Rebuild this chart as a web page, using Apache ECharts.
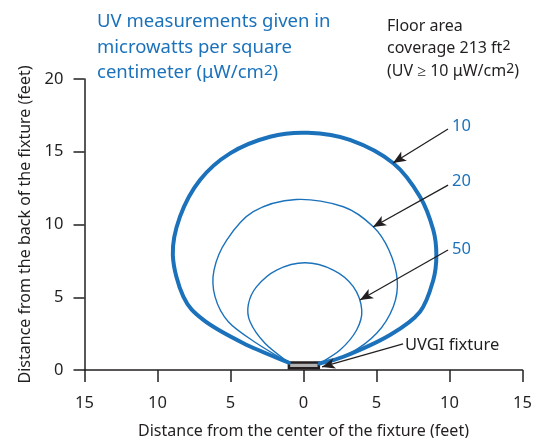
<!DOCTYPE html>
<html>
<head>
<meta charset="utf-8">
<script src="https://cdn.jsdelivr.net/npm/echarts@6/dist/echarts.min.js"></script>
<style>html,body{margin:0;padding:0;background:#fff}#c{width:539px;height:438px}</style>
</head>
<body>
<div id="c"></div>
<script>
// ---- data ----
var xTicks = [-15, -10, -5, 0, 5, 10, 15];
var xTickLabels = ['15', '10', '5', '0', '5', '10', '15'];
var yTicks = [0, 5, 10, 15, 20];
var contourLevels = ['10', '20', '50'];
var contour10 = [[-1.0,0.5],[-4.12,1.84],[-6.86,3.44],[-8.23,5.04],[-8.95,7.9],[-8.46,10.54],[-7.09,13.06],[-5.03,14.89],[-2.29,16.03],[0.3,16.3],[3.18,15.81],[6.15,14.21],[7.98,11.91],[8.89,9.62],[9.1,7.9],[8.89,6.19],[7.98,4.01],[5.92,2.41],[2.73,0.91],[1.1,0.45]];
var contour20 = [[-1.0,0.5],[-3.21,1.84],[-5.15,3.32],[-6.06,5.04],[-6.13,6.87],[-5.26,8.93],[-3.44,10.88],[-0.5,11.72],[2.73,11.22],[4.78,9.85],[5.85,8.25],[6.42,6.19],[6.15,4.35],[5.01,2.52],[3.18,1.15],[1.1,0.45]];
var contour50 = [[-1.0,0.5],[-2.64,1.84],[-3.66,3.32],[-3.78,4.5],[-3.21,5.73],[-1.84,6.87],[0.1,7.37],[2.04,6.87],[3.41,5.73],[3.99,4.12],[3.64,2.75],[2.5,1.37],[1.1,0.45]];
var fixture = [[-1.0, 0.12], [1.05, 0.52]];
var levelArrows = [[[9.9,16.56],[6.13,14.23]], [[9.9,12.71],[4.76,9.83]], [[9.9,8.25],[3.87,4.81]]];
var levelLabelPos = [[10.17,16.77],[10.17,12.99],[10.17,8.32]];
var fixtureLabel = 'UVGI fixture';
var fixtureArrow = [[6.82,1.79],[1.27,0.21]];
var fixtureLabelPos = [6.95,1.72];

var BLUE = '#1b72bb';
var INK = '#231f20';
var FONT = 'Noto Sans';

var chart = echarts.init(document.getElementById('c'), null, {renderer: 'canvas'});

function splinePath(p) {
  var n = p.length, d = 'M' + p[0][0] + ' ' + p[0][1];
  for (var i = 0; i < n - 1; i++) {
    var p0 = p[i > 0 ? i - 1 : i], p1 = p[i], p2 = p[i + 1], p3 = p[i + 2 < n ? i + 2 : i + 1];
    var c1x = p1[0] + (p2[0] - p0[0]) / 6, c1y = p1[1] + (p2[1] - p0[1]) / 6;
    var c2x = p2[0] - (p3[0] - p1[0]) / 6, c2y = p2[1] - (p3[1] - p1[1]) / 6;
    d += ' C' + c1x + ' ' + c1y + ' ' + c2x + ' ' + c2y + ' ' + p2[0] + ' ' + p2[1];
  }
  return d;
}

function contourSeries(pts, width) {
  return {
    type: 'custom', data: pts, z: 2, animation: false, silent: true,
    encode: {x: 0, y: 1},
    renderItem: function (params, api) {
      if (params.dataIndex !== 0) return null;
      var p = pts.map(function (d) { return api.coord(d); });
      return {
        type: 'path',
        shape: {pathData: splinePath(p)},
        style: {stroke: BLUE, lineWidth: width, fill: null, lineJoin: 'round', lineCap: 'round'}
      };
    }
  };
}

var arrowLines = levelArrows.map(function (a) {
  return [{coord: a[0]}, {coord: a[1]}];
});
arrowLines.push([{coord: fixtureArrow[0]}, {coord: fixtureArrow[1]}]);

var labelPoints = levelLabelPos.map(function (p, i) {
  return {coord: p, value: contourLevels[i],
    label: {show: true, formatter: contourLevels[i], color: BLUE, fontSize: 16.5, fontFamily: FONT, position: 'inside', align: 'left', verticalAlign: 'middle'}};
});
labelPoints.push({coord: fixtureLabelPos, value: fixtureLabel,
  label: {show: true, formatter: fixtureLabel, color: INK, fontSize: 16.5, fontFamily: FONT, position: 'inside', align: 'left', verticalAlign: 'middle'}});

var annot = {
  type: 'line', data: [], symbol: 'none', z: 6, animation: false,
  markLine: {
    silent: true, animation: false, symbol: ['none', 'arrow'], symbolSize: [8, 13],
    lineStyle: {color: INK, width: 1.3, type: 'solid'}, label: {show: false},
    data: arrowLines
  },
  markPoint: {
    silent: true, animation: false, symbol: 'circle', symbolSize: 0.001,
    data: labelPoints
  },
  markArea: {
    silent: true, animation: false,
    itemStyle: {color: '#b3b3b3', borderColor: INK, borderWidth: 2.5},
    data: [[{coord: fixture[0]}, {coord: fixture[1]}]]
  }
};

chart.setOption({
  animation: false,
  textStyle: {fontFamily: FONT},
  grid: {left: 84.5, right: 16.5, top: 79, bottom: 68, containLabel: false, outerBoundsMode: 'none'},
  xAxis: {
    type: 'value', min: -15, max: 15, interval: 5,
    name: 'Distance from the center of the fixture (feet)', nameLocation: 'middle', nameGap: 53,
    nameTextStyle: {color: INK, fontSize: 16, fontFamily: FONT},
    axisLine: {show: true, onZero: false, lineStyle: {color: INK, width: 1.5}},
    axisTick: {show: true, inside: false, length: 12, lineStyle: {color: INK, width: 1.5}},
    axisLabel: {color: INK, fontSize: 16.5, fontFamily: FONT, margin: 25,
      formatter: function (v) { var i = xTicks.indexOf(v); return i >= 0 ? xTickLabels[i] : ''; }},
    splitLine: {show: false}
  },
  yAxis: {
    type: 'value', min: 0, max: 20, interval: 5,
    name: 'Distance from the back of the fixture (feet)', nameLocation: 'middle', nameGap: 51,
    nameTextStyle: {color: INK, fontSize: 16, fontFamily: FONT},
    axisLine: {show: true, onZero: false, lineStyle: {color: INK, width: 1.5}},
    axisTick: {show: true, inside: false, length: 11, lineStyle: {color: INK, width: 1.5}},
    axisLabel: {color: INK, fontSize: 16.5, fontFamily: FONT, margin: 21,
      formatter: function (v) { return yTicks.indexOf(v) >= 0 ? String(v) : ''; }},
    splitLine: {show: false}
  },
  graphic: [
    {type: 'text', left: 97, top: 9, style: {
      text: 'UV measurements given in\nmicrowatts per square\ncentimeter (\u03bcW/cm{s|2})',
      fill: BLUE, fontSize: 18.5, fontFamily: FONT, lineHeight: 25.5,
      rich: {s: {fontSize: 15, fill: BLUE, fontFamily: FONT, lineHeight: 25.5, padding: [0, 0, 4, 0]}}
    }},
    {type: 'text', left: 387, top: 15, style: {
      text: 'Floor area\ncoverage 213 ft{s|2}\n(UV \u2265 10 \u03bcW/cm{s|2})',
      fill: INK, fontSize: 16, fontFamily: FONT, lineHeight: 22.5,
      rich: {s: {fontSize: 14, fill: INK, fontFamily: FONT, lineHeight: 22.5, padding: [0, 0, 5, 0]}}
    }}
  ],
  series: [contourSeries(contour20, 1.4), contourSeries(contour50, 1.4), contourSeries(contour10, 4), annot]
});
</script>
</body>
</html>
